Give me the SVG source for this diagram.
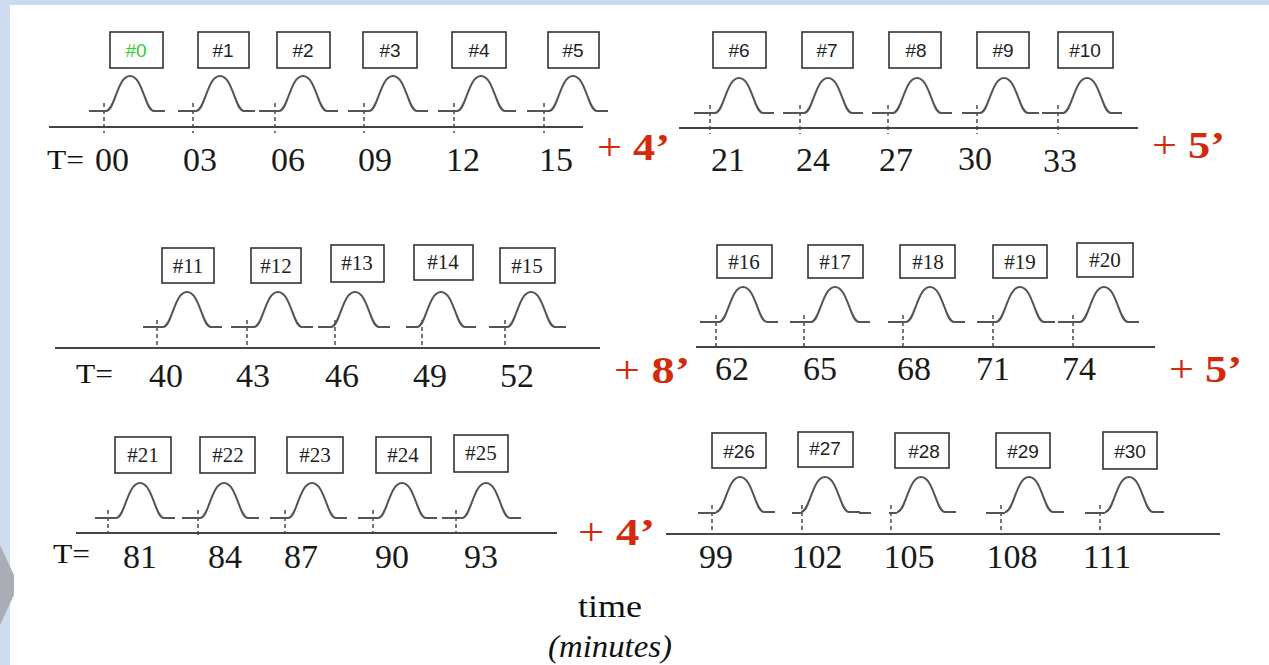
<svg xmlns="http://www.w3.org/2000/svg" width="1269" height="665" viewBox="0 0 1269 665">
<style>
.bx{fill:#fff;stroke:#333;stroke-width:1.6}
.lb{font-family:"Liberation Sans",Arial,sans-serif;font-size:19px;fill:#222;text-anchor:middle}
.lbs{font-family:"Liberation Serif","Times New Roman",serif;font-size:21px;fill:#222;text-anchor:middle}
.pl{fill:none;stroke:#555;stroke-width:2}
.tk{stroke:#555;stroke-width:1.6;stroke-dasharray:4,3}
.ax{stroke:#444;stroke-width:2}
.num{font-family:"Liberation Serif","Times New Roman",serif;font-size:34px;fill:#1a1a1a;text-anchor:middle}
.teq{font-family:"Liberation Serif","Times New Roman",serif;font-size:27px;fill:#111}
.red{font-family:"Liberation Serif","Times New Roman",serif;font-size:38px;fill:#d42a0c}
.rb{font-weight:bold}
.tm{font-family:"Liberation Serif","DejaVu Serif","Times New Roman",serif;font-size:31px;fill:#111}
</style>
<defs>
<path id="p" d="M-24,35 C-15,35 -13,0 0,0 C13,0 15,35 24,35 L35,35"/>
</defs>
<rect width="1269" height="665" fill="#fff"/>
<rect x="0" y="0" width="1269" height="5" fill="#c9d9ee"/>
<rect x="0" y="0" width="10" height="665" fill="#cddcef"/>
<polygon points="0,545 14,575 14,595 0,625" fill="#a9aeb5"/>

<!-- Row 1 -->
<g id="n0"><rect class="bx" x="110" y="32" width="53" height="36"/><text class="lb" x="136" y="57" style="fill:#33cc33">#0</text><use href="#p" class="pl" x="130" y="76"/><line class="pl" x1="89" y1="111" x2="106" y2="111"/><line class="tk" x1="104" y1="103" x2="104" y2="133"/></g>
<g id="n1"><rect class="bx" x="198" y="32" width="51" height="36"/><text class="lb" x="223" y="57">#1</text><use href="#p" class="pl" x="220" y="76"/><line class="pl" x1="178" y1="111" x2="196" y2="111"/><line class="tk" x1="193" y1="103" x2="193" y2="133"/></g>
<g id="n2"><rect class="bx" x="277" y="32" width="53" height="36"/><text class="lb" x="303" y="57">#2</text><use href="#p" class="pl" x="303" y="76"/><line class="pl" x1="259" y1="111" x2="279" y2="111"/><line class="tk" x1="275" y1="103" x2="275" y2="133"/></g>
<g id="n3"><rect class="bx" x="363" y="32" width="54" height="36"/><text class="lb" x="390" y="57">#3</text><use href="#p" class="pl" x="393" y="76"/><line class="pl" x1="348" y1="111" x2="369" y2="111"/><line class="tk" x1="364" y1="103" x2="364" y2="133"/></g>
<g id="n4"><rect class="bx" x="452" y="32" width="54" height="36"/><text class="lb" x="479" y="57">#4</text><use href="#p" class="pl" x="481" y="76"/><line class="pl" x1="438" y1="111" x2="457" y2="111"/><line class="tk" x1="454" y1="103" x2="454" y2="133"/></g>
<g id="n5"><rect class="bx" x="548" y="32" width="51" height="36"/><text class="lb" x="573" y="57">#5</text><use href="#p" class="pl" x="573" y="76"/><line class="pl" x1="527" y1="111" x2="549" y2="111"/><line class="tk" x1="544" y1="103" x2="544" y2="133"/></g>
<g id="n6"><rect class="bx" x="713" y="32" width="53" height="36"/><text class="lb" x="739" y="57">#6</text><use href="#p" class="pl" x="739" y="78"/><line class="pl" x1="694" y1="113" x2="715" y2="113"/><line class="tk" x1="710" y1="105" x2="710" y2="134"/></g>
<g id="n7"><rect class="bx" x="802" y="32" width="51" height="36"/><text class="lb" x="827" y="57">#7</text><use href="#p" class="pl" x="828" y="78"/><line class="pl" x1="783" y1="113" x2="804" y2="113"/><line class="tk" x1="800" y1="105" x2="800" y2="134"/></g>
<g id="n8"><rect class="bx" x="889" y="32" width="52" height="36"/><text class="lb" x="916" y="57">#8</text><use href="#p" class="pl" x="917" y="78"/><line class="pl" x1="872" y1="113" x2="893" y2="113"/><line class="tk" x1="888" y1="105" x2="888" y2="134"/></g>
<g id="n9"><rect class="bx" x="977" y="32" width="52" height="36"/><text class="lb" x="1003" y="57">#9</text><use href="#p" class="pl" x="1004" y="78"/><line class="pl" x1="962" y1="113" x2="980" y2="113"/><line class="tk" x1="977" y1="105" x2="977" y2="134"/></g>
<g id="n10"><rect class="bx" x="1058" y="32" width="55" height="36"/><text class="lb" x="1085" y="57">#10</text><use href="#p" class="pl" x="1087" y="78"/><line class="pl" x1="1042" y1="113" x2="1063" y2="113"/><line class="tk" x1="1058" y1="105" x2="1058" y2="134"/></g>

<!-- Row 2 -->
<g id="n11"><rect class="bx" x="162" y="248" width="52" height="35"/><text class="lbs" x="188" y="273">#11</text><use href="#p" class="pl" x="187" y="292"/><line class="pl" x1="143" y1="327" x2="163" y2="327"/><line class="tk" x1="157" y1="320" x2="157" y2="348"/></g>
<g id="n12"><rect class="bx" x="251" y="248" width="50" height="35"/><text class="lbs" x="276" y="273">#12</text><use href="#p" class="pl" x="278" y="292"/><line class="pl" x1="231" y1="327" x2="254" y2="327"/><line class="tk" x1="247" y1="320" x2="247" y2="348"/></g>
<g id="n13"><rect class="bx" x="331" y="245" width="53" height="37"/><text class="lbs" x="357" y="270">#13</text><use href="#p" class="pl" x="355" y="292"/><line class="pl" x1="318" y1="327" x2="331" y2="327"/><line class="tk" x1="335" y1="320" x2="335" y2="348"/></g>
<g id="n14"><rect class="bx" x="414" y="245" width="59" height="35"/><text class="lbs" x="443" y="269">#14</text><use href="#p" class="pl" x="441" y="292"/><line class="pl" x1="406" y1="327" x2="417" y2="327"/><line class="tk" x1="422" y1="320" x2="422" y2="348"/></g>
<g id="n15"><rect class="bx" x="500" y="248" width="55" height="35"/><text class="lbs" x="527" y="273">#15</text><use href="#p" class="pl" x="531" y="292"/><line class="pl" x1="489" y1="327" x2="507" y2="327"/><line class="tk" x1="505" y1="320" x2="505" y2="348"/></g>
<g id="n16"><rect class="bx" x="717" y="245" width="55" height="33"/><text class="lbs" x="744" y="269">#16</text><use href="#p" class="pl" x="743" y="287"/><line class="pl" x1="700" y1="322" x2="719" y2="322"/><line class="tk" x1="716" y1="315" x2="716" y2="347"/></g>
<g id="n17"><rect class="bx" x="808" y="245" width="55" height="33"/><text class="lbs" x="835" y="269">#17</text><use href="#p" class="pl" x="835" y="287"/><line class="pl" x1="790" y1="322" x2="811" y2="322"/><line class="tk" x1="804" y1="315" x2="804" y2="347"/></g>
<g id="n18"><rect class="bx" x="900" y="245" width="55" height="33"/><text class="lbs" x="928" y="269">#18</text><use href="#p" class="pl" x="930" y="287"/><line class="pl" x1="888" y1="322" x2="906" y2="322"/><line class="tk" x1="903" y1="315" x2="903" y2="347"/></g>
<g id="n19"><rect class="bx" x="993" y="245" width="54" height="33"/><text class="lbs" x="1020" y="269">#19</text><use href="#p" class="pl" x="1020" y="287"/><line class="pl" x1="977" y1="322" x2="996" y2="322"/><line class="tk" x1="993" y1="315" x2="993" y2="347"/></g>
<g id="n20"><rect class="bx" x="1077" y="243" width="56" height="34"/><text class="lbs" x="1105" y="267">#20</text><use href="#p" class="pl" x="1104" y="287"/><line class="pl" x1="1058" y1="322" x2="1080" y2="322"/><line class="tk" x1="1073" y1="315" x2="1073" y2="347"/></g>

<!-- Row 3 -->
<g id="n21"><rect class="bx" x="115" y="437" width="56" height="36"/><text class="lbs" x="143" y="462">#21</text><use href="#p" class="pl" x="140" y="483"/><line class="pl" x1="95" y1="518" x2="116" y2="518"/><line class="tk" x1="108" y1="510" x2="108" y2="534"/></g>
<g id="n22"><rect class="bx" x="200" y="437" width="55" height="36"/><text class="lbs" x="228" y="462">#22</text><use href="#p" class="pl" x="224" y="483"/><line class="pl" x1="182" y1="518" x2="200" y2="518"/><line class="tk" x1="198" y1="510" x2="198" y2="536"/></g>
<g id="n23"><rect class="bx" x="287" y="437" width="56" height="36"/><text class="lbs" x="315" y="462">#23</text><use href="#p" class="pl" x="312" y="483"/><line class="pl" x1="270" y1="518" x2="288" y2="518"/><line class="tk" x1="285" y1="510" x2="285" y2="534"/></g>
<g id="n24"><rect class="bx" x="376" y="437" width="55" height="36"/><text class="lbs" x="403" y="462">#24</text><use href="#p" class="pl" x="402" y="483"/><line class="pl" x1="358" y1="518" x2="378" y2="518"/><line class="tk" x1="373" y1="510" x2="373" y2="534"/></g>
<g id="n25"><rect class="bx" x="454" y="435" width="54" height="37"/><text class="lbs" x="481" y="460">#25</text><use href="#p" class="pl" x="486" y="483"/><line class="pl" x1="442" y1="518" x2="462" y2="518"/><line class="tk" x1="456" y1="510" x2="456" y2="534"/></g>
<g id="n26"><rect class="bx" x="712" y="433" width="54" height="35"/><text class="lb" x="739" y="458">#26</text><use href="#p" class="pl" x="740" y="477"/><line class="pl" x1="698" y1="513" x2="716" y2="513"/><line class="tk" x1="712" y1="505" x2="712" y2="535"/></g>
<g id="n27"><rect class="bx" x="798" y="432" width="55" height="35"/><text class="lb" x="825" y="455">#27</text><use href="#p" class="pl" x="825" y="477"/><line class="pl" x1="792" y1="513" x2="801" y2="513"/><line class="pl" x1="859" y1="513" x2="871" y2="513"/><line class="tk" x1="802" y1="505" x2="802" y2="535"/></g>
<g id="n28"><rect class="bx" x="895" y="433" width="54" height="35"/><text class="lb" x="924" y="458">#28</text><use href="#p" class="pl" x="921" y="477"/><line class="pl" x1="889" y1="513" x2="897" y2="513"/><line class="tk" x1="891" y1="505" x2="891" y2="535"/></g>
<g id="n29"><rect class="bx" x="996" y="433" width="54" height="35"/><text class="lb" x="1023" y="458">#29</text><use href="#p" class="pl" x="1029" y="477"/><line class="pl" x1="986" y1="513" x2="1005" y2="513"/><line class="tk" x1="1001" y1="505" x2="1001" y2="535"/></g>
<g id="n30"><rect class="bx" x="1103" y="432" width="54" height="37"/><text class="lb" x="1130" y="458">#30</text><use href="#p" class="pl" x="1129" y="477"/><line class="pl" x1="1085" y1="513" x2="1105" y2="513"/><line class="tk" x1="1100" y1="505" x2="1100" y2="535"/></g>

<g id="axes">
<line class="ax" x1="49" y1="127" x2="583" y2="127"/>
<line class="ax" x1="679" y1="128" x2="1138" y2="128"/>
<line class="ax" x1="55" y1="348" x2="600" y2="348"/>
<line class="ax" x1="696" y1="347" x2="1155" y2="347"/>
<line class="ax" x1="76" y1="533" x2="557" y2="533"/>
<line class="ax" x1="666" y1="534" x2="1220" y2="534"/>
</g>

<g id="labels">
<text class="teq" x="47" y="169" textLength="37" lengthAdjust="spacingAndGlyphs">T=</text>
<text class="num" x="112" y="171">00</text>
<text class="num" x="200" y="171">03</text>
<text class="num" x="288" y="171">06</text>
<text class="num" x="375" y="171">09</text>
<text class="num" x="463" y="171">12</text>
<text class="num" x="556" y="171">15</text>
<text class="num" x="728" y="171">21</text>
<text class="num" x="813" y="171">24</text>
<text class="num" x="896" y="171">27</text>
<text class="num" x="975" y="170">30</text>
<text class="num" x="1060" y="172">33</text>

<text class="teq" x="76" y="383" textLength="37" lengthAdjust="spacingAndGlyphs">T=</text>
<text class="num" x="166" y="387">40</text>
<text class="num" x="253" y="387">43</text>
<text class="num" x="342" y="387">46</text>
<text class="num" x="430" y="387">49</text>
<text class="num" x="517" y="387">52</text>
<text class="num" x="732" y="380">62</text>
<text class="num" x="820" y="380">65</text>
<text class="num" x="914" y="380">68</text>
<text class="num" x="993" y="380">71</text>
<text class="num" x="1079" y="380">74</text>

<text class="teq" x="53" y="563" textLength="37" lengthAdjust="spacingAndGlyphs">T=</text>
<text class="num" x="140" y="568">81</text>
<text class="num" x="225" y="568">84</text>
<text class="num" x="301" y="568">87</text>
<text class="num" x="392" y="568">90</text>
<text class="num" x="481" y="568">93</text>
<text class="num" x="716" y="568">99</text>
<text class="num" x="817" y="568">102</text>
<text class="num" x="909" y="568">105</text>
<text class="num" x="1012" y="568">108</text>
<text class="num" x="1107" y="568">111</text>

<text class="red" x="597" y="160" textLength="73" lengthAdjust="spacingAndGlyphs">+ <tspan class="rb">4’</tspan></text>
<text class="red" x="1152" y="158" textLength="73" lengthAdjust="spacingAndGlyphs">+ <tspan class="rb">5’</tspan></text>
<text class="red" x="614" y="383" textLength="76" lengthAdjust="spacingAndGlyphs">+ <tspan class="rb">8’</tspan></text>
<text class="red" x="1169" y="382" textLength="73" lengthAdjust="spacingAndGlyphs">+ <tspan class="rb">5’</tspan></text>
<text class="red" x="578" y="545" textLength="77" lengthAdjust="spacingAndGlyphs">+ <tspan class="rb">4’</tspan></text>

<text class="tm" x="578" y="617" textLength="64" lengthAdjust="spacingAndGlyphs">time</text>
<text class="tm" x="548" y="657" font-style="italic" textLength="124" lengthAdjust="spacingAndGlyphs">(minutes)</text>
</g>
</svg>
